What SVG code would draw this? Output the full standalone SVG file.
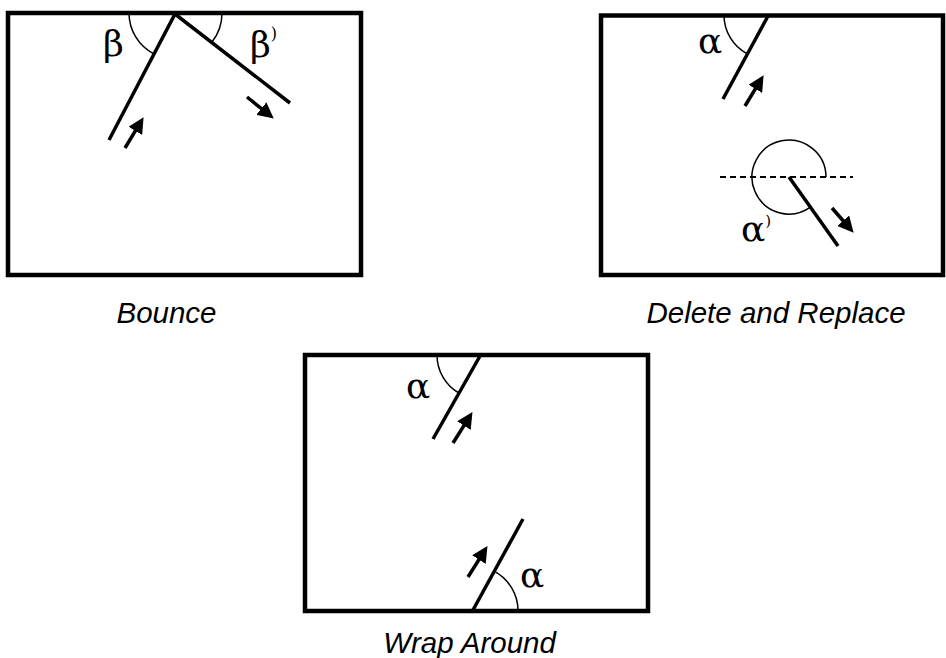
<svg xmlns="http://www.w3.org/2000/svg" width="946" height="658" viewBox="0 0 946 658">
<style>
.box{fill:none;stroke:#000;stroke-width:4.5}
.ray{fill:none;stroke:#000;stroke-width:3.5;stroke-linecap:butt}
.arc{fill:none;stroke:#000;stroke-width:1.5}
.arr{fill:none;stroke:#000;stroke-width:3.5;marker-end:url(#head)}
.dash{fill:none;stroke:#000;stroke-width:2;stroke-dasharray:6 4}
.greek{font-family:"DejaVu Serif","Liberation Serif",serif;font-size:36px;fill:#000}
.cap{font-family:"Liberation Sans",Arial,sans-serif;font-style:italic;font-size:29.5px;fill:#000;text-anchor:middle}
</style>
<defs>
<marker id="head" viewBox="0 0 16 16" refX="5" refY="8" markerWidth="16" markerHeight="16" markerUnits="userSpaceOnUse" orient="auto">
<path d="M0,0 L16,8 L0,16 z" fill="#000"/>
</marker>
</defs>
<rect width="946" height="658" fill="#fff"/>

<g id="bounce">
<rect class="box" x="8" y="13" width="353" height="262"/>
<path class="ray" d="M109,140 L175,14 L290,103"/>
<path class="arc" d="M129,13 A46,46 0 0 0 153.8,53.8"/>
<path class="arc" d="M212,42 A47,47 0 0 0 222,13"/>
<text class="greek" x="103" y="56">β</text>
<text class="greek" x="250" y="57">β<tspan font-size="16" dy="-18">)</tspan></text>
<text class="cap" x="166.5" y="323">Bounce</text>
</g>

<g id="delete-replace">
<rect class="box" x="601" y="15.5" width="342" height="259.5"/>
<path class="ray" d="M768,16 L723,99"/>
<path class="arc" d="M724,15 A44,44 0 0 0 747.2,53.8"/>
<text class="greek" x="698" y="53">α</text>
<path class="dash" d="M720,177 L853,177"/>
<path class="arc" d="M826,177 A37,37 0 1 0 810.4,207.2"/>
<path class="ray" d="M789,177 L838,246"/>
<text class="greek" x="741" y="241">α<tspan font-size="15" dy="-15">)</tspan></text>
<text class="cap" x="776" y="323">Delete and Replace</text>
</g>

<g id="wrap-around">
<rect class="box" x="305" y="355" width="343" height="256"/>
<path class="ray" d="M480,356 L433,439"/>
<path class="arc" d="M437,355 A44,44 0 0 0 459.2,393.2"/>
<text class="greek" x="406" y="398">α</text>
<path class="ray" d="M473,610 L523,519"/>
<path class="arc" d="M494.5,571.4 A45,45 0 0 1 518,611"/>
<text class="greek" x="520" y="587">α</text>
<text class="cap" x="469.5" y="653">Wrap Around</text>
</g>

<g id="connectors">
<path class="arr" d="M125,148 L137.9,126.6"/>
<path class="arr" d="M247,97 L265.2,111.7"/>
<path class="arr" d="M745,106 L757.9,84.6"/>
<path class="arr" d="M832,208 L846.4,224.5"/>
<path class="arr" d="M453,443 L466.6,421.4"/>
<path class="arr" d="M468,577 L481.6,555.4"/>
</g>
</svg>
